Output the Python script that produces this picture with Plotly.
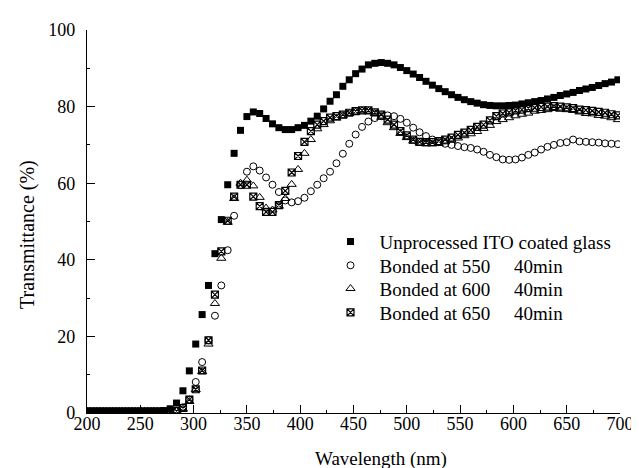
import plotly.graph_objects as go

wavelength = list(range(200, 700, 6))  # 200 ... 698 nm

unprocessed = [0.4] * 12 + [0.6,
    1.1, 2.6, 5.8, 11.0, 18.0, 25.7, 33.3, 41.6, 50.5, 59.6, 67.8, 73.8, 77.4, 78.6, 78.2, 76.9, 75.5,
    74.5, 74.0, 74.0, 74.5, 75.1, 76.2, 77.5, 79.4, 81.4, 83.1, 85.3, 87.0, 88.6, 89.8, 90.9, 91.3,
    91.5, 91.3, 90.9, 90.2, 89.4, 88.5, 87.6, 86.6, 85.6, 84.7, 83.9, 83.1, 82.4, 81.8, 81.3, 80.9,
    80.5, 80.3, 80.2, 80.2, 80.3, 80.4, 80.7, 81.0, 81.3, 81.6, 82.0, 82.4, 82.9, 83.3, 83.7, 84.2,
    84.6, 85.0, 85.5, 86.0, 86.4, 87.0]

bonded_550 = [0.4] * 13 + [0.4,
    0.6, 1.5, 3.5, 8.1, 13.3, 19.0, 25.4, 33.3, 42.5, 51.5, 59.5, 63.0, 64.4, 63.3, 61.5, 59.6, 57.7,
    55.5, 55.0, 55.3, 56.2, 57.9, 59.6, 61.3, 63.0, 65.2, 67.7, 70.3, 72.7, 74.7, 76.1, 77.0, 77.5,
    77.7, 77.5, 76.8, 75.8, 74.5, 73.3, 72.3, 71.4, 70.7, 70.3, 70.0, 69.7, 69.4, 69.2, 68.8, 68.2,
    67.4, 66.8, 66.2, 66.1, 66.2, 66.7, 67.4, 68.0, 68.8, 69.5, 70.0, 70.5, 70.7, 71.4, 70.9, 70.8,
    70.7, 70.6, 70.4, 70.3, 70.2]

bonded_600 = [0.4] * 14 + [
    0.5, 1.0, 3.0, 6.1, 10.8, 18.0, 28.6, 40.4, 49.8, 56.0, 60.0, 60.8, 59.3, 56.3, 53.5, 53.0, 54.0,
    56.0, 59.7, 63.6, 67.8, 71.4, 74.2, 75.3, 76.3, 77.0, 77.6, 78.2, 78.6, 78.9, 78.8, 78.2, 77.2,
    75.8, 74.5, 73.0, 71.9, 71.0, 70.5, 70.3, 70.3, 70.4, 70.8, 71.2, 71.8, 72.4, 72.9, 73.5, 74.3,
    75.1, 76.1, 76.6, 77.1, 77.6, 78.0, 78.3, 78.8, 79.0, 79.2, 79.5, 79.3, 79.2, 79.0, 78.6, 78.2,
    78.1, 77.7, 77.5, 77.1, 76.6]

bonded_650 = [0.4] * 14 + [
    0.5, 1.3, 3.5, 6.2, 11.1, 19.0, 30.9, 42.2, 50.2, 56.5, 59.6, 59.6, 56.5, 54.0, 52.5, 52.5, 54.3,
    58.0, 62.8, 67.1, 70.8, 73.6, 75.3, 76.2, 77.1, 77.5, 77.9, 78.4, 78.8, 79.0, 79.0, 78.5, 77.9,
    76.6, 75.3, 73.6, 72.5, 71.4, 70.8, 70.7, 70.7, 71.0, 71.4, 71.9, 72.6, 73.2, 73.9, 74.7, 75.3,
    76.4, 77.5, 78.2, 78.5, 79.0, 79.2, 79.6, 79.7, 79.9, 80.0, 80.1, 80.0, 79.8, 79.6, 79.2, 79.1,
    78.9, 78.6, 78.4, 78.0, 77.7]

SP = "\u00a0" * 5
series_names = [
    "Unprocessed ITO coated glass",
    "Bonded at 550" + SP + "40min",
    "Bonded at 600" + SP + "40min",
    "Bonded at 650" + SP + "40min",
]

FONT = "Liberation Serif, Times New Roman, serif"

fig = go.Figure()
styles = [
    dict(symbol="square", size=7, color="black", line=dict(width=0, color="black")),
    dict(symbol="circle-open", size=7, color="black", line=dict(width=1, color="black")),
    dict(symbol="triangle-up-open", size=8, color="black", line=dict(width=1, color="black")),
    dict(symbol="square-x-open", size=7, color="black", line=dict(width=1.2, color="black")),
]
legend_ids = ["legend", "legend2", "legend3", "legend4"]
for name, ys, st, lg in zip(series_names, [unprocessed, bonded_550, bonded_600, bonded_650], styles, legend_ids):
    fig.add_trace(go.Scatter(x=wavelength, y=ys, mode="markers", name=name, marker=st,
                             legend=lg, showlegend=True))

axis_common = dict(
    showline=True, linecolor="black", linewidth=1.2, showgrid=False, zeroline=False,
    ticks="inside", ticklen=8, tickwidth=1.2, tickcolor="black",
    tickfont=dict(family=FONT, size=18, color="black"),
    mirror=False,
)
fig.update_xaxes(range=[200, 700], dtick=50, tick0=200,
                 minor=dict(ticks="inside", ticklen=3, dtick=25, tickcolor="black", tickwidth=1.2),
                 ticklabelstandoff=-6,
                 **axis_common)
fig.update_yaxes(range=[0, 100], dtick=20, tick0=0,
                 minor=dict(ticks="inside", ticklen=3, dtick=10, tickcolor="black", tickwidth=1.2),
                 ticklabelstandoff=7,
                 **axis_common)

# axis titles (placed as in the reference, slightly off-centre)
fig.add_annotation(text="Wavelength (nm)", xref="paper", yref="paper", x=0.5516, y=0,
                   xanchor="center", yanchor="middle", yshift=-46, showarrow=False,
                   font=dict(family=FONT, size=19, color="black"))
fig.add_annotation(text="Transmittance (%)", xref="paper", yref="paper", x=0, y=0.465,
                   xanchor="center", yanchor="middle", xshift=-59, textangle=-90, showarrow=False,
                   font=dict(family=FONT, size=20, color="black"))

leg_common = dict(x=0.44, xanchor="left", yanchor="middle",
                  font=dict(family=FONT, size=19, color="black"),
                  itemwidth=48, bgcolor="rgba(0,0,0,0)", borderwidth=0)
row_px = [232.7, 256.7, 280.0, 304.0]
legends = {}
for lg, ypx in zip(legend_ids, row_px):
    legends[lg] = dict(y=(405 - ypx) / 385, **leg_common)

fig.update_layout(
    width=639, height=468,
    showlegend=True,
    margin=dict(l=79, r=27, t=20, b=63),
    paper_bgcolor="white", plot_bgcolor="white",
    font=dict(family=FONT, size=18, color="black"),
    **legends,
)

fig.write_html("out.html")
